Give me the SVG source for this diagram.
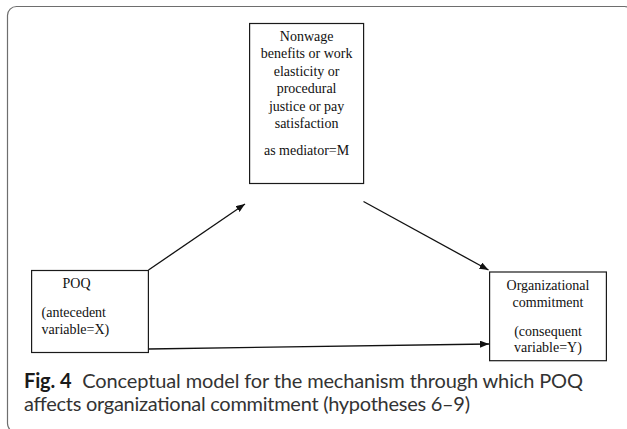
<svg xmlns="http://www.w3.org/2000/svg" width="627" height="429" viewBox="0 0 627 429">
  <style>
    .box { fill: #ffffff; stroke: #1a1a1a; stroke-width: 1.2; }
    .lbl { font-family: "Liberation Serif", "Times New Roman", serif; font-size: 14px; fill: #111111; }
    .mid { text-anchor: middle; }
    .edge { stroke: #111111; stroke-width: 1.3; fill: none; marker-end: url(#head); }
    .cap { font-family: Lato, "Open Sans", "Liberation Sans", sans-serif; font-size: 20px; fill: #333333; }
    .capb { font-weight: bold; fill: #1a1a1a; }
  </style>
  <defs>
    <marker id="head" viewBox="0 0 9 7" refX="9" refY="3.5" markerWidth="9" markerHeight="7" markerUnits="userSpaceOnUse" orient="auto">
      <path d="M0,0 L9,3.5 L0,7 Z" fill="#111111"/>
    </marker>
  </defs>

  <rect width="627" height="429" fill="#ffffff"/>
  <!-- panel frame -->
  <rect x="7.5" y="6.5" width="626" height="426" rx="9" fill="none" stroke="#6e6e6e" stroke-width="1.2"/>

  <g id="connectors">
    <line class="edge" x1="148.5" y1="270" x2="245" y2="204"/>
    <line class="edge" x1="363.5" y1="201.5" x2="488.5" y2="270"/>
    <line class="edge" x1="148.5" y1="349" x2="489" y2="344"/>
  </g>

  <g id="mediator">
    <rect class="box" x="249.6" y="23.5" width="114" height="160"/>
    <text class="lbl mid" x="306.6" y="41">Nonwage</text>
    <text class="lbl mid" x="306.6" y="58.3">benefits or work</text>
    <text class="lbl mid" x="306.6" y="75.7">elasticity or</text>
    <text class="lbl mid" x="306.6" y="93.3">procedural</text>
    <text class="lbl mid" x="306.6" y="110.7">justice or pay</text>
    <text class="lbl mid" x="306.6" y="127.7">satisfaction</text>
    <text class="lbl mid" x="306.6" y="155">as mediator=M</text>
  </g>

  <g id="poq">
    <rect class="box" x="31.6" y="270.5" width="116.8" height="82"/>
    <text class="lbl mid" x="76.5" y="288">POQ</text>
    <text class="lbl" x="41.5" y="316.5">(antecedent</text>
    <text class="lbl" x="41.5" y="333.5">variable=X)</text>
  </g>

  <g id="commitment">
    <rect class="box" x="489.6" y="272" width="116.8" height="88.7"/>
    <text class="lbl mid" x="548" y="290">Organizational</text>
    <text class="lbl mid" x="548" y="306.7">commitment</text>
    <text class="lbl mid" x="548" y="335.7">(consequent</text>
    <text class="lbl mid" x="548" y="352.3">variable=Y)</text>
  </g>

  <g id="caption">
    <text class="cap" x="24" y="388" textLength="559"><tspan class="capb">Fig. 4</tspan><tspan dx="6"> Conceptual model for the mechanism through which POQ</tspan></text>
    <text class="cap" x="24" y="411" textLength="446">affects organizational commitment (hypotheses 6–9)</text>
  </g>
</svg>
